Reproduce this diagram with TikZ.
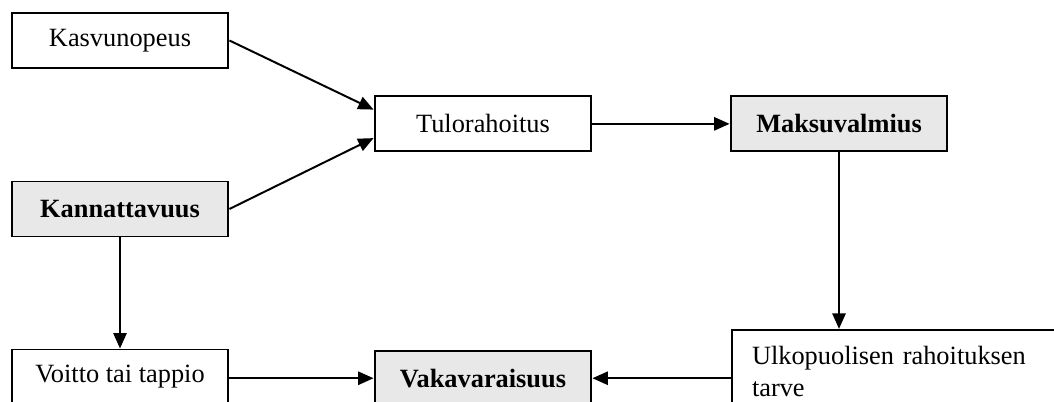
\documentclass[tikz,border=0pt]{standalone}
\usepackage{fontspec}
\setmainfont{Liberation Serif}
\usetikzlibrary{arrows.meta,calc}
\definecolor{boxgray}{RGB}{232,232,232}
\tikzset{
  plainbox/.style={draw, line width=0.9pt, minimum width=3.47cm, minimum height=0.88cm,
    inner sep=0pt, font=\fontsize{12}{13}\selectfont},
  keybox/.style={plainbox, fill=boxgray, font=\fontsize{12}{13}\selectfont\bfseries},
  flow/.style={line width=0.9pt, -{Triangle[length=7pt,width=6pt]}}
}

\begin{document}
\begin{tikzpicture}
  \useasboundingbox (0,0) rectangle (16.864,6.432);
  \clip (0,0) rectangle (16.864,6.432);

  % left column
  \node[plainbox] (kasv) at (1.92,5.784) {Kasvunopeus};
  \node[keybox] (kann) at (1.92,3.088) {Kannattavuus};
  \node[plainbox] (voitto) at (1.92,0.4) {Voitto tai tappio};

  % middle column
  \node[plainbox] (tulo) at (7.728,4.45) {Tulorahoitus};
  \node[keybox] (vaka) at (7.728,0.38) {Vakavaraisuus};

  % right column
  \node[keybox] (maks) at (13.424,4.45) {Maksuvalmius};
  \node[plainbox, anchor=north west, inner xsep=0.32cm, inner ysep=0.26cm,
    text width=4.86cm, align=left, text depth=1.2cm,
    font=\fontsize{12}{14.5}\selectfont] (ulko) at (11.696,1.17)
    {Ulkopuolisen rahoituksen\\tarve};

  \draw[flow] (kasv.east) -- ($(tulo.north west)!0.25!(tulo.south west)$);
  \draw[flow] (kann.east) -- ($(tulo.north west)!0.75!(tulo.south west)$);
  \draw[flow] (tulo) -- (maks);
  \draw[flow] (maks.south) -- (maks.south |- ulko.north);
  \draw[flow] (kann.south) -- (voitto.north);
  \draw[flow] (voitto.east |- vaka.west) -- (vaka.west);
  \draw[flow] (ulko.west |- vaka.east) -- (vaka.east);
\end{tikzpicture}
\end{document}
